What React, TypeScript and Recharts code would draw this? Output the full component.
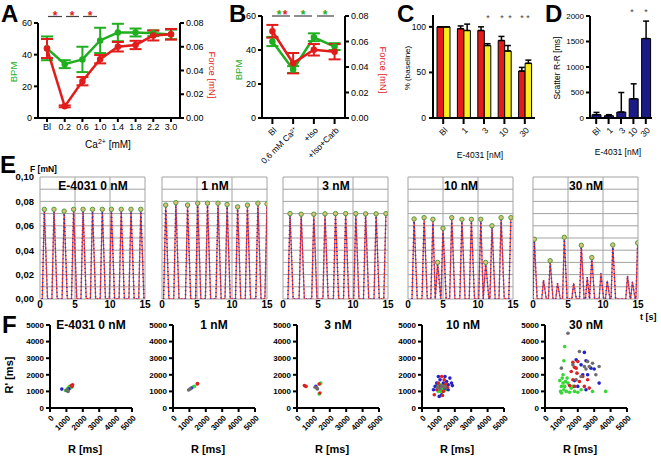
import React from 'react';
import {
  ComposedChart, Line, Scatter, ScatterChart, BarChart, Bar,
  XAxis, YAxis, ErrorBar, CartesianGrid,
} from 'recharts';

const FONT = '"Liberation Sans", Arial, sans-serif';
const GREEN = '#1fae1f';
const RED = '#e21b1b';
const YELLOW = '#f7ec1c';
const NAVY = '#1b1b85';
const AX = { stroke: '#000', strokeWidth: 2 };

// A - Ca2+ dependence
const caLabels = ['Bl', '0.2', '0.6', '1.0', '1.4', '1.8', '2.2', '3.0'];
const caBpm = [44, 34, 37, 49, 54, 54, 53.5, 52.8];
const caBpmErr = [7.5, 2.5, 8, 8, 5.5, 2.5, 1.8, 3];
const caForce = [0.0585, 0.0098, 0.031, 0.0495, 0.06, 0.0615, 0.0695, 0.0705];
const caForceErr = [0.008, 0.0008, 0.0035, 0.0035, 0.004, 0.0035, 0.0042, 0.0045];
const bpmTicks = [0, 20, 40, 60];
const forceTicks = [0, 0.02, 0.04, 0.06, 0.08];

// B - drugs
const condLabels = ['Bl', '0,6 mM Ca²⁺', '+Iso', '+Iso+Carb'];
const condBpm = [45, 28.5, 47.5, 42];
const condBpmErr = [2.7, 2, 2.3, 2];
const condForce = [0.068, 0.043, 0.0535, 0.052];
const condForceErr = [0.005, 0.008, 0.0045, 0.006];

// C / D - E-4031
const e4031Labels = ['Bl', '1', '3', '10', '30'];
const cRed = [100, 98, 96, 85, 51.5];
const cRedErr = [0, 3, 4, 4.5, 4];
const cYellow = [100, 96, 79.5, 73.5, 60];
const cYellowErr = [0, 7, 2, 6, 3.5];
const pctTicks = [0, 50, 100];
const dScatter = [65, 45, 117, 377, 1558];
const dScatterErr = [45, 20, 383, 293, 342];
const rrTicks = [0, 500, 1000, 1500, 2000];

// E - force traces (peak time [s], peak force [mN])
const eTitles = ['E-4031 0 nM', '1 nM', '3 nM', '10 nM', '30 nM'];
const eTimeTicks = [0, 5, 10, 15];
const eForceTicks = [0, 0.01, 0.02, 0.03, 0.04, 0.05, 0.06, 0.07, 0.08, 0.09, 0.1];
const e0PeakT = [0.62, 2.0, 3.45, 4.8, 6.15, 7.5, 8.9, 10.2, 11.6, 13.0, 14.4];
const e0PeakF = [0.0735, 0.0735, 0.072, 0.0735, 0.0735, 0.0735, 0.0735, 0.0735, 0.0735, 0.0735, 0.0735];
const e1PeakT = [0.53, 1.98, 3.65, 5.1, 6.5, 8.0, 9.3, 10.8, 12.2, 13.7, 15.0];
const e1PeakF = [0.077, 0.079, 0.077, 0.0785, 0.0785, 0.0785, 0.0775, 0.0755, 0.077, 0.0785, 0.078];
const e2PeakT = [1.0, 2.6, 4.4, 6.0, 7.5, 8.95, 10.4, 11.8, 13.3, 14.7];
const e2PeakF = [0.07, 0.0695, 0.0695, 0.0698, 0.07, 0.07, 0.07, 0.0698, 0.0698, 0.07];
const e3PeakT = [0.87, 2.3, 3.56, 4.23, 5.0, 6.25, 7.7, 9.05, 10.4, 11.1, 12.0, 13.3, 14.7];
const e3PeakF = [0.0656, 0.0667, 0.0653, 0.03, 0.058, 0.0667, 0.0653, 0.0653, 0.0653, 0.03, 0.06, 0.0667, 0.0667];
const e4PeakT = [0.19, 2.45, 4.47, 6.9, 8.4, 11.4, 14.95];
const e4PeakF = [0.049, 0.0314, 0.0506, 0.044, 0.034, 0.0443, 0.046];
const e4BumpT = [1.5, 3.5, 5.8, 7.75, 9.7, 10.6, 13.5, 14.2];
const e4BumpF = [0.0156, 0.013, 0.013, 0.018, 0.021, 0.015, 0.019, 0.014];
const eRise = [0.3, 0.3, 0.3, 0.3, 0.25];
const eFall = [0.45, 0.45, 0.45, 0.45, 0.4];

// F - Poincare plots, [R, R'] in ms, one list per panel
const fTitles = ['E-4031 0 nM', '1 nM', '3 nM', '10 nM', '30 nM'];
const fMsTicks = [0, 1000, 2000, 3000, 4000, 5000];
const fGreen = [
  [[950, 1050], [1050, 1150], [1150, 1250], [1250, 1200], [1200, 1300], [1300, 1250], [1100, 1100]],
  [[1300, 1300], [1250, 1280]],
  [[1450, 1500], [1400, 1450], [1350, 850]],
  [[900, 1350], [1000, 1000], [1050, 1200], [1100, 1400], [1150, 1000], [1200, 1100], [1250, 1300], [1300, 1200], [1350, 1050], [1400, 1350], [1450, 1100], [1000, 1300]],
  [[900, 1650], [950, 1000], [1000, 900], [1050, 1800], [1100, 2000], [1150, 1100], [1200, 1300], [1250, 1600], [1300, 1000], [1400, 1500], [1500, 950], [1600, 1200], [1800, 1000], [2000, 950], [2200, 1100], [1200, 3700], [1150, 2850], [1000, 1300], [1100, 1500], [2900, 1000], [3700, 1000], [1350, 1800], [1700, 1300]],
];
const fBlue = [
  [[720, 1140], [1050, 1050], [1150, 1150]],
  [[1120, 1200]],
  [[1150, 1300]],
  [[700, 1100], [800, 1300], [1000, 1900], [1100, 1700], [1200, 800], [1300, 1500], [1400, 1200], [1500, 1600], [1600, 1400], [1700, 1800], [1800, 1500], [1850, 1350], [1050, 700], [1400, 1900], [900, 1500], [1600, 1100]],
  [[2400, 3350], [2500, 2850], [2800, 2400], [3000, 2350], [3300, 1500], [2300, 2000], [1800, 1650], [2000, 1300], [2200, 2600], [2600, 2000], [1900, 2900], [2500, 1100]],
];
const fRed = [
  [[1300, 1350], [1380, 1400], [1350, 1300]],
  [[1480, 1450], [1500, 1480]],
  [[450, 1350], [550, 1300], [1350, 1450], [1400, 900]],
  [[750, 800], [900, 1100], [1100, 1300], [1200, 1900], [1300, 1000], [1350, 1700], [1450, 1450], [1550, 1250], [1250, 750], [1000, 1500]],
  [[1700, 2750], [1800, 2450], [1900, 2400], [1700, 1700], [1950, 2100], [2300, 1900], [2400, 1300], [2600, 1700], [1800, 1300], [1500, 1350], [2100, 1600], [2700, 1200], [1600, 2200], [2000, 2800]],
];
const fGray = [
  [[1000, 1050], [1100, 1000], [1050, 1100]],
  [[950, 1080], [1050, 1150]],
  [[1100, 1250], [1200, 1200], [1250, 1150]],
  [[950, 1250], [1100, 1150], [1200, 1350], [1300, 1300], [1400, 1250]],
  [[1400, 4500], [2100, 3400], [1000, 2400], [2600, 2800], [2700, 2500], [3300, 2500], [2500, 2350], [1900, 1700], [2200, 1900], [2400, 2500], [3100, 2000], [2900, 2700], [1700, 2600]],
];

const aData = caLabels.map((c, i) => ({ c, bpm: caBpm[i], bpmErr: caBpmErr[i], force: caForce[i], forceErr: caForceErr[i] }));
const bData = condLabels.map((c, i) => ({ c, bpm: condBpm[i], bpmErr: condBpmErr[i], force: condForce[i], forceErr: condForceErr[i] }));
const cData = e4031Labels.map((c, i) => ({ c, red: cRed[i], redErr: [0, cRedErr[i]], yel: cYellow[i], yelErr: [0, cYellowErr[i]] }));
const dData = e4031Labels.map((c, i) => ({ c, v: dScatter[i], err: [0, dScatterErr[i]] }));

const buildTrace = (peakT: number[], peakF: number[], rise: number, fall: number) => {
  const pts: { t: number; f: number }[] = [];
  peakT.forEach((t, i) => {
    const on = Math.max(0, t - rise);
    const last = pts[pts.length - 1];
    if (last && on <= last.t) {
      pts.pop();
      const pk = pts[pts.length - 1];
      pts.push({ t: (pk.t + t) / 2, f: 0 });
    } else {
      pts.push({ t: on, f: 0 });
    }
    pts.push({ t, f: peakF[i] });
    if (t + fall <= 15) pts.push({ t: t + fall, f: 0 });
  });
  return pts;
};

const e4All = [
  ...e4PeakT.map((t, i) => [t, e4PeakF[i]]),
  ...e4BumpT.map((t, i) => [t, e4BumpF[i]]),
].sort((a, b) => a[0] - b[0]);

const ePeakT = [e0PeakT, e1PeakT, e2PeakT, e3PeakT, e4PeakT];
const ePeakF = [e0PeakF, e1PeakF, e2PeakF, e3PeakF, e4PeakF];
const eTraces = [
  buildTrace(e0PeakT, e0PeakF, eRise[0], eFall[0]),
  buildTrace(e1PeakT, e1PeakF, eRise[1], eFall[1]),
  buildTrace(e2PeakT, e2PeakF, eRise[2], eFall[2]),
  buildTrace(e3PeakT, e3PeakF, eRise[3], eFall[3]),
  buildTrace(e4All.map((p) => p[0]), e4All.map((p) => p[1]), eRise[4], eFall[4]),
];

const tk = (size: number, bold = false) => ({ fontSize: size, fill: '#000', fontWeight: bold ? 'bold' : 'normal' });

const RotTick = ({ x, y, payload, size = 9, bold = false }: any) => (
  <text x={x} y={y} dy={size * 0.8} textAnchor="end" fontSize={size} fontWeight={bold ? 'bold' : 'normal'}
    fill="#000" transform={`rotate(-45 ${x} ${y})`}>
    {payload.value}
  </text>
);

const Abs = ({ left, top, children }: any) => (
  <div style={{ position: 'absolute', left, top }}>{children}</div>
);

const PanelA = () => (
  <Abs left={0} top={0}>
    <ComposedChart width={230} height={150} data={aData} margin={{ top: 23, right: 20, bottom: 12, left: 8 }}>
      <XAxis dataKey="c" scale="point" padding={{ left: 9, right: 9 }} height={20} interval={0}
        tick={tk(9)} tickSize={4} tickMargin={2} axisLine={AX} tickLine={AX} />
      <YAxis yAxisId="bpm" domain={[0, 60]} ticks={bpmTicks} width={30} tick={tk(9)} tickSize={4} tickMargin={2}
        axisLine={AX} tickLine={AX} />
      <YAxis yAxisId="force" orientation="right" domain={[0, 0.08]} ticks={forceTicks} width={30}
        tickFormatter={(v: number) => v.toFixed(2)} tick={tk(9)} tickSize={4} tickMargin={2} axisLine={AX} tickLine={AX} />
      <Line yAxisId="bpm" dataKey="bpm" stroke={GREEN} strokeWidth={2.5} dot={{ r: 2, fill: GREEN, stroke: GREEN }} isAnimationActive={false}>
        <ErrorBar dataKey="bpmErr" width={6} stroke={GREEN} strokeWidth={2} />
      </Line>
      <Line yAxisId="force" dataKey="force" stroke={RED} strokeWidth={2.5} dot={{ r: 2, fill: RED, stroke: RED }} isAnimationActive={false}>
        <ErrorBar dataKey="forceErr" width={6} stroke={RED} strokeWidth={2} />
      </Line>
    </ComposedChart>
  </Abs>
);

const PanelB = () => (
  <Abs left={225} top={0}>
    <ComposedChart width={175} height={180} data={bData} margin={{ top: 16, right: 25, bottom: 12, left: 12 }}>
      <XAxis dataKey="c" scale="point" padding={{ left: 10.4, right: 10.4 }} height={50} interval={0}
        tick={(p: any) => <RotTick {...p} size={8.5} />} tickSize={6} tickMargin={2} axisLine={AX} tickLine={AX} />
      <YAxis yAxisId="bpm" domain={[0, 60]} ticks={bpmTicks} width={25} tick={tk(9)} tickSize={4} tickMargin={2}
        axisLine={AX} tickLine={AX} />
      <YAxis yAxisId="force" orientation="right" domain={[0, 0.08]} ticks={forceTicks} width={30}
        tickFormatter={(v: number) => v.toFixed(2)} tick={tk(9)} tickSize={4} tickMargin={2} axisLine={AX} tickLine={AX} />
      <Line yAxisId="bpm" dataKey="bpm" stroke={GREEN} strokeWidth={2.5} dot={{ r: 2, fill: GREEN, stroke: GREEN }} isAnimationActive={false}>
        <ErrorBar dataKey="bpmErr" width={6} stroke={GREEN} strokeWidth={2} />
      </Line>
      <Line yAxisId="force" dataKey="force" stroke={RED} strokeWidth={2.5} dot={{ r: 2, fill: RED, stroke: RED }} isAnimationActive={false}>
        <ErrorBar dataKey="forceErr" width={6} stroke={RED} strokeWidth={2} />
      </Line>
    </ComposedChart>
  </Abs>
);

const PanelC = () => (
  <Abs left={380} top={0}>
    <BarChart width={170} height={180} data={cData} margin={{ top: 15, right: 15, bottom: 12, left: 23 }} barGap={0}>
      <XAxis dataKey="c" height={50} interval={0} tick={(p: any) => <RotTick {...p} size={8.5} />}
        tickSize={6} tickMargin={2} axisLine={AX} tickLine={AX} />
      <YAxis domain={[0, 113]} ticks={pctTicks} width={30} tick={tk(8.5)} tickSize={4} tickMargin={3}
        axisLine={AX} tickLine={AX} />
      <Bar dataKey="red" fill={RED} stroke="#000" strokeWidth={1} barSize={6.5} isAnimationActive={false}>
        <ErrorBar dataKey="redErr" width={3} stroke="#000" strokeWidth={1.5} />
      </Bar>
      <Bar dataKey="yel" fill={YELLOW} stroke="#000" strokeWidth={1} barSize={6.5} isAnimationActive={false}>
        <ErrorBar dataKey="yelErr" width={3} stroke="#000" strokeWidth={1.5} />
      </Bar>
    </BarChart>
  </Abs>
);

const PanelD = () => (
  <Abs left={555} top={0}>
    <BarChart width={106} height={180} data={dData} margin={{ top: 16, right: 9, bottom: 12, left: 5 }}>
      <XAxis dataKey="c" height={50} interval={0} tick={(p: any) => <RotTick {...p} size={8.5} />}
        tickSize={6} tickMargin={2} axisLine={AX} tickLine={AX} />
      <YAxis domain={[0, 2000]} ticks={rrTicks} width={30} tick={tk(8)} tickSize={4} tickMargin={2}
        axisLine={AX} tickLine={AX} />
      <Bar dataKey="v" fill={NAVY} stroke="#000" strokeWidth={1} barSize={9} isAnimationActive={false}>
        <ErrorBar dataKey="err" width={3} stroke="#000" strokeWidth={1.5} />
      </Bar>
    </BarChart>
  </Abs>
);

const eLeft = [40, 162, 283, 408, 533];

const TracePanel = ({ i }: { i: number }) => {
  const first = i === 0;
  const yw = first ? 38 : 1;
  const ml = first ? 0 : 8;
  const peaks = ePeakT[i].map((t, k) => ({ t, f: ePeakF[i][k] }));
  return (
    <Abs left={eLeft[i] - yw - ml} top={171}>
      <ComposedChart width={ml + yw + 105 + 10} height={144} margin={{ top: 6, right: 10, bottom: 0, left: ml }}>
        <CartesianGrid stroke="#a3a3a3" strokeWidth={1} />
        <XAxis type="number" dataKey="t" domain={[0, 15]} allowDataOverflow ticks={eTimeTicks} height={16} interval={0}
          tick={tk(10, true)} tickSize={0} tickMargin={2} axisLine={false} tickLine={false} />
        <YAxis type="number" dataKey="f" domain={[0, 0.1]} allowDataOverflow ticks={eForceTicks} width={yw} interval={0}
          tick={tk(9.5, true)} tickSize={0} tickMargin={6} axisLine={false} tickLine={false}
          tickFormatter={(v: number) => (first && Math.round(v * 100) % 2 === 0 ? v.toFixed(2).replace('.', ',') : '')} />
        <Line data={eTraces[i]} dataKey="f" stroke="#f03a3a" strokeWidth={1.2} dot={false} isAnimationActive={false} />
        <Line data={eTraces[i]} dataKey="f" stroke="#3a2fb0" strokeWidth={1.6} strokeDasharray="1 3" dot={false} isAnimationActive={false} />
        <Scatter data={peaks} dataKey="f" isAnimationActive={false}
          shape={(p: any) => <circle cx={p.cx} cy={p.cy} r={2.2} fill="#d9c27a" stroke="#4c9c3c" strokeWidth={1} />} />
      </ComposedChart>
    </Abs>
  );
};

const fAxisX = [50, 173, 297, 422, 545];
const fColors = ['#35d735', '#2323cc', '#dd2020', '#6c6c6c'];

const ScatterPanel = ({ i }: { i: number }) => {
  const groups = [fGreen[i], fBlue[i], fRed[i], fGray[i]];
  return (
    <Abs left={fAxisX[i] - 30} top={320}>
      <ScatterChart width={122} height={130} margin={{ top: 5, right: 10, bottom: 0, left: 0 }}>
        <XAxis type="number" dataKey="x" domain={[0, 5000]} ticks={fMsTicks} height={42} interval={0}
          tick={(p: any) => <RotTick {...p} size={8} bold />} tickSize={4} tickMargin={2} axisLine={AX} tickLine={AX} />
        <YAxis type="number" dataKey="y" domain={[0, 5000]} ticks={fMsTicks} width={30} interval={0}
          tick={tk(8, true)} tickSize={4} tickMargin={2} axisLine={AX} tickLine={AX} />
        {groups.map((g, k) => (
          <Scatter key={k} data={g.map(([x, y]) => ({ x, y }))} isAnimationActive={false}
            shape={(p: any) => <circle cx={p.cx} cy={p.cy} r={1.8} fill={fColors[k]} />} />
        ))}
      </ScatterChart>
    </Abs>
  );
};

const Overlay = () => (
  <svg width={661} height={460} style={{ position: 'absolute', left: 0, top: 0, pointerEvents: 'none' }} fontFamily={FONT}>
    <g fontSize={24} fontWeight="bold">
      <text x={1} y={22}>A</text>
      <text x={229} y={22}>B</text>
      <text x={397} y={22}>C</text>
      <text x={545} y={22}>D</text>
      <text x={0} y={173}>E</text>
      <text x={2} y={333}>F</text>
    </g>
    {/* A */}
    <text transform="translate(17,72) rotate(-90)" textAnchor="middle" fontSize={9.5} fill={GREEN}>BPM</text>
    <text transform="translate(209,75) rotate(90)" textAnchor="middle" fontSize={9.5} fill={RED}>Force [mN]</text>
    <text x={108} y={148} textAnchor="middle" fontSize={10}>Ca<tspan dy={-4} fontSize={7}>2+</tspan><tspan dy={4}> [mM]</tspan></text>
    <g stroke="#444" strokeWidth={1.2}>
      <line x1={48} x2={62} y1={16.5} y2={16.5} />
      <line x1={66} x2={79} y1={16.5} y2={16.5} />
      <line x1={83} x2={97} y1={16.5} y2={16.5} />
      <line x1={272} x2={290} y1={16} y2={16} />
      <line x1={294} x2={312} y1={16} y2={16} />
      <line x1={317} x2={334} y1={16} y2={16} />
    </g>
    <g fontSize={12} fontWeight="bold" textAnchor="middle">
      <text x={55} y={20} fill={RED}>*</text>
      <text x={72} y={20} fill={RED}>*</text>
      <text x={90} y={20} fill={RED}>*</text>
      <text x={279} y={19} fill={GREEN}>*</text>
      <text x={285} y={19} fill={RED}>*</text>
      <text x={303} y={19} fill={GREEN}>*</text>
      <text x={325} y={19} fill={GREEN}>*</text>
    </g>
    {/* B */}
    <text transform="translate(242,70) rotate(-90)" textAnchor="middle" fontSize={9.5} fill={GREEN}>BPM</text>
    <text transform="translate(380,70) rotate(90)" textAnchor="middle" fontSize={9.5} fill={RED}>Force [mN]</text>
    {/* C / D */}
    <text transform="translate(410,68) rotate(-90)" textAnchor="middle" fontSize={8}>% (baseline)</text>
    <text transform="translate(560,68) rotate(-90)" textAnchor="middle" fontSize={8.5}>Scatter R-R [ms]</text>
    <text x={480} y={158} textAnchor="middle" fontSize={8.5}>E-4031 [nM]</text>
    <text x={618} y={155} textAnchor="middle" fontSize={8.5}>E-4031 [nM]</text>
    <g fontSize={9} fill="#444" textAnchor="middle">
      <text x={488} y={21}>*</text>
      <text x={502} y={21}>*</text>
      <text x={510} y={21}>*</text>
      <text x={522} y={21}>*</text>
      <text x={528} y={21}>*</text>
      <text x={632} y={15}>*</text>
      <text x={646} y={15}>*</text>
    </g>
    {/* E */}
    <text x={30} y={172} fontSize={8.5} fontWeight="bold">F [mN]</text>
    <text x={640} y={320} fontSize={9} fontWeight="bold">t [s]</text>
    {eTitles.map((t, i) => (
      <text key={t} x={eLeft[i] + 53} y={190} textAnchor="middle" fontSize={12} fontWeight="bold">{t}</text>
    ))}
    {/* F */}
    <text transform="translate(13,375) rotate(-90)" textAnchor="middle" fontSize={11} fontWeight="bold">R' [ms]</text>
    {fTitles.map((t, i) => (
      <text key={t} x={fAxisX[i] + 41} y={329} textAnchor="middle" fontSize={12} fontWeight="bold">{t}</text>
    ))}
    {fTitles.map((t, i) => (
      <text key={'r' + t} x={fAxisX[i] + 35} y={453} textAnchor="middle" fontSize={11} fontWeight="bold">R [ms]</text>
    ))}
  </svg>
);

export default function App() {
  return (
    <div style={{ position: 'absolute', left: 0, top: 0, width: 661, height: 460, background: '#fff', fontFamily: FONT, overflow: 'hidden' }}>
      <PanelA />
      <PanelB />
      <PanelC />
      <PanelD />
      {eTitles.map((_, i) => <TracePanel key={i} i={i} />)}
      {fTitles.map((_, i) => <ScatterPanel key={i} i={i} />)}
      <Overlay />
    </div>
  );
}
